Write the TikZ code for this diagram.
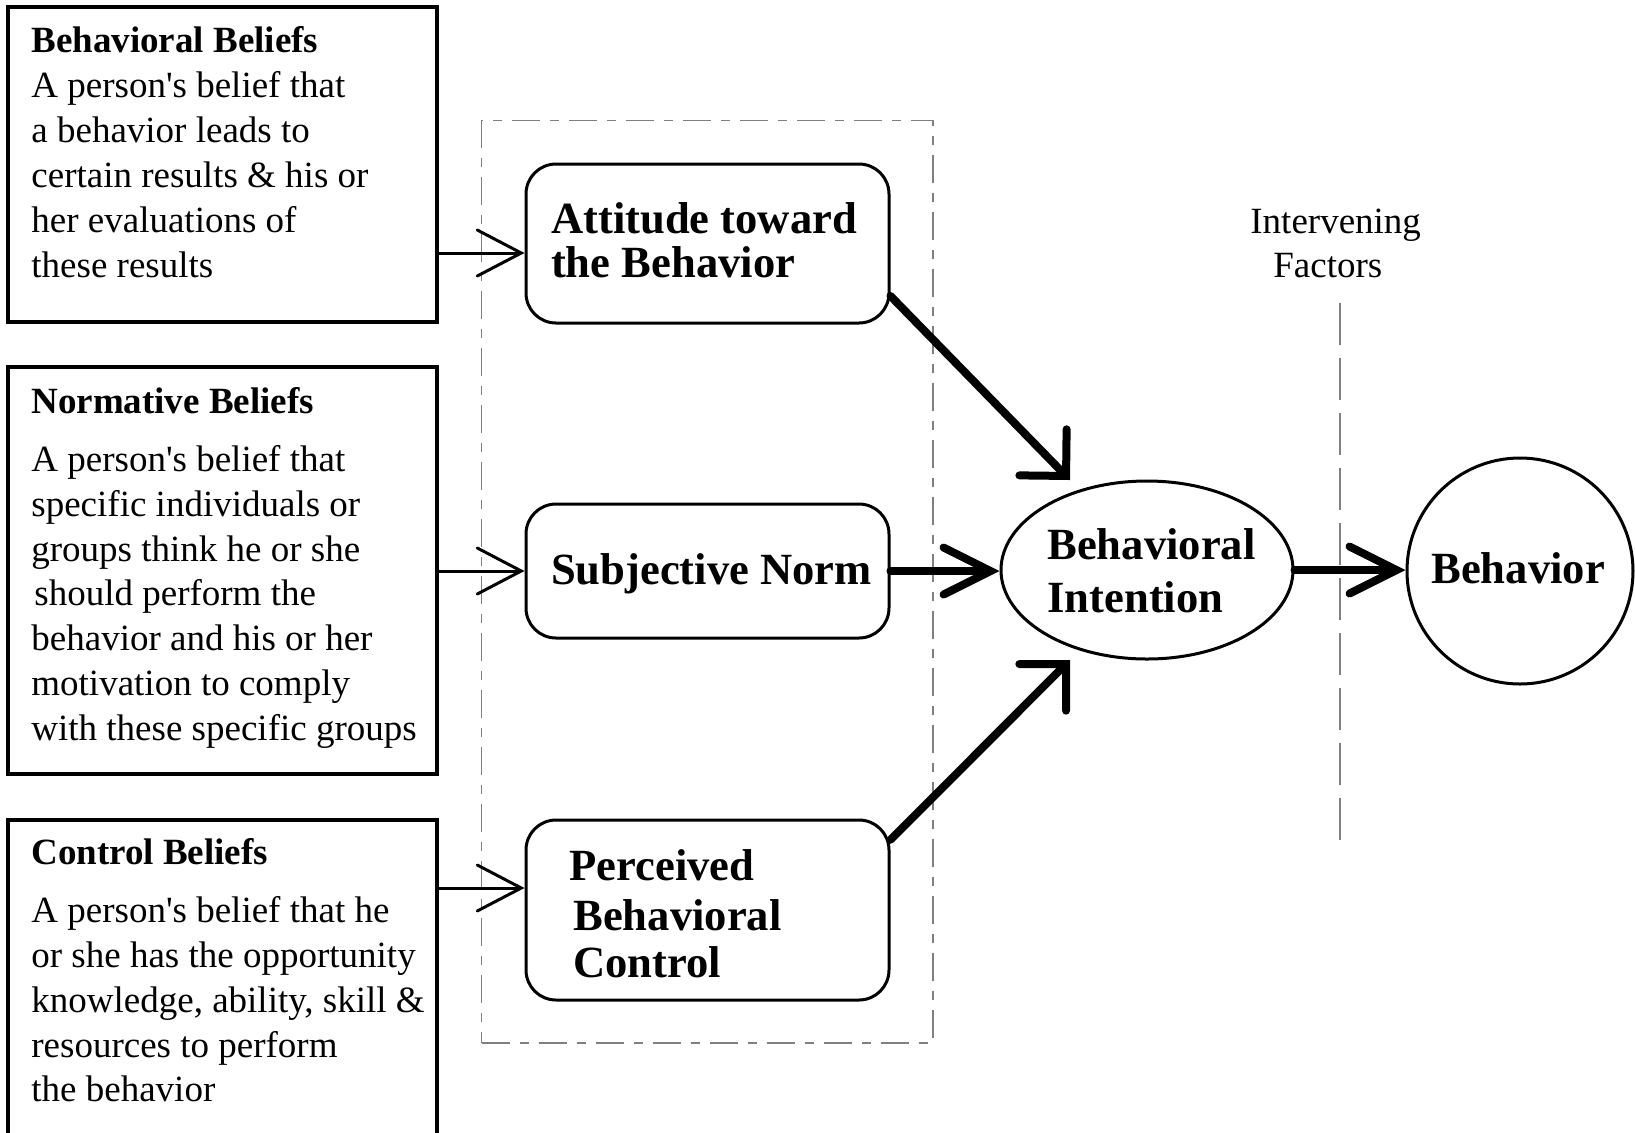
\documentclass[tikz,border=0pt]{standalone}
\usepackage{fontspec}
\setmainfont{Liberation Serif}
\usetikzlibrary{arrows.meta,shapes.geometric}
\newcommand{\sqq}{\textquotesingle}
\tikzset{
 lbox/.style={draw, line width=1.6pt, rectangle, inner sep=0pt},
 rbox/.style={draw, line width=1.5pt, rectangle, rounded corners=15pt, inner sep=0pt},
 txt/.style={anchor=base west, inner sep=0pt, font=\fontsize{18.5}{22}\selectfont},
 hd/.style={anchor=base west, inner sep=0pt, font=\fontsize{18.5}{22}\selectfont\bfseries},
 big/.style={anchor=base west, inner sep=0pt, font=\fontsize{22.3}{26}\selectfont\bfseries},
 thinarrow/.style={line width=1.5pt, -{Straight Barb[length=22pt 0, width=23pt 0, line cap=round]}},
 hthick/.style={line width=4pt, line cap=round, -{Straight Barb[length=23.5pt 0, width=23.5pt 0, line cap=round]}},
 dthick/.style={line width=4pt, line cap=round, -{Straight Barb[length=16.5pt 0, width=33pt 0, line cap=round]}},
 ddbox/.style={draw=gray, line width=0.75pt, dash pattern=on 14pt off 5pt on 4.5pt off 5pt, inner sep=0pt},
 vdash/.style={draw=gray, line width=1pt, dash pattern=on 21pt off 6.5pt},
}
\begin{document}
\begin{tikzpicture}[x=0.5pt,y=-0.5pt]
\useasboundingbox (0,0) rectangle (1635,1132);
\fill[white] (0,0) rectangle (1635,1132);

% group box
\node[ddbox, minimum width=225.65pt, minimum height=461.15pt] (grp) at (707.35,581.85) {};
% left boxes
\node[lbox, minimum width=214.5pt, minimum height=157.5pt] (bb) at (222.5,164.5) {};
\node[lbox, minimum width=214.5pt, minimum height=203.5pt] (nb) at (222.5,570.5) {};
\node[lbox, minimum width=214.5pt, minimum height=165pt] (cb) at (222.5,985) {};
% middle boxes
\node[rbox, minimum width=181.5pt, minimum height=79.5pt] (att) at (707.5,243.5) {};
\node[rbox, minimum width=181.5pt, minimum height=67pt] (sn) at (707.5,571) {};
\node[rbox, minimum width=181.5pt, minimum height=90pt] (pbc) at (707.5,910) {};
% intention and behavior
\node[draw, line width=1.5pt, ellipse, inner sep=0pt, minimum width=146pt, minimum height=89pt] (bi) at (1147,570) {};
\node[draw, line width=1.5pt, circle, inner sep=0pt, minimum size=113pt] (beh) at (1520,571) {};

% texts left box 1
\node[hd] (bbh) at (31,52) {Behavioral Beliefs};
\node[txt] (bb1) at (31,97) {A person\sqq s belief that};
\node[txt] (bb2) at (31,142) {a behavior leads to};
\node[txt] (bb3) at (31,187) {certain results \& his or};
\node[txt] (bb4) at (31,232) {her evaluations of};
\node[txt] (bb5) at (31,277) {these results};
% box 2
\node[hd] (nbh) at (31,413) {Normative Beliefs};
\node[txt] (nb1) at (31,471) {A person\sqq s belief that};
\node[txt] (nb2) at (31,516) {specific individuals or};
\node[txt] (nb3) at (31,561) {groups think he or she};
\node[txt] (nb4) at (34,605) {should perform the};
\node[txt] (nb5) at (31,650) {behavior and his or her};
\node[txt] (nb6) at (31,695) {motivation to comply};
\node[txt] (nb7) at (31,740) {with these specific groups};
% box 3
\node[hd] (cbh) at (31,864) {Control Beliefs};
\node[txt] (cb1) at (31,922) {A person\sqq s belief that he};
\node[txt] (cb2) at (31,967) {or she has the opportunity};
\node[txt] (cb3) at (31,1012) {knowledge, ability, skill \&};
\node[txt] (cb4) at (31,1057) {resources to perform};
\node[txt] (cb5) at (31,1101) {the behavior};

% middle texts
\node[big] (att1) at (550.7,233) {Attitude toward};
\node[big] (att2) at (550.7,277) {the Behavior};
\node[big] (sn1) at (550.7,584) {Subjective Norm};
\node[big] (pbc1) at (569,880) {Perceived};
\node[big] (pbc2) at (573,930) {Behavioral};
\node[big] (pbc3) at (573,977) {Control};
\node[big] (bi1) at (1047,559) {Behavioral};
\node[big] (bi2) at (1047,612) {Intention};
\node[big] (beh1) at (1431,583) {Behavior};
\node[txt] (if1) at (1250,233) {Intervening};
\node[txt] (if2) at (1273,277) {Factors};

% dashed separator
\draw[vdash] (1340,303) -- (1340,842);

% thin arrows
\coordinate (y1) at (0,253);
\coordinate (y2) at (0,571);
\coordinate (y3) at (0,888);
\draw[thinarrow] (bb.east |- y1) -- (att.west |- y1);
\draw[thinarrow] (nb.east |- y2) -- (sn.west |- y2);
\draw[thinarrow] (cb.east |- y3) -- (pbc.west |- y3);

% thick arrows
\coordinate (t1) at (1070,480);
\coordinate (t3) at (1070,660);
\draw[dthick] (att.-16.7) -- (t1);
\draw[hthick] (sn.east) -- (sn.east -| bi.west);
\draw[dthick] (pbc.21.1) -- (t3);
\draw[hthick] (bi.east) -- (bi.east -| beh.west);
\end{tikzpicture}
\end{document}
